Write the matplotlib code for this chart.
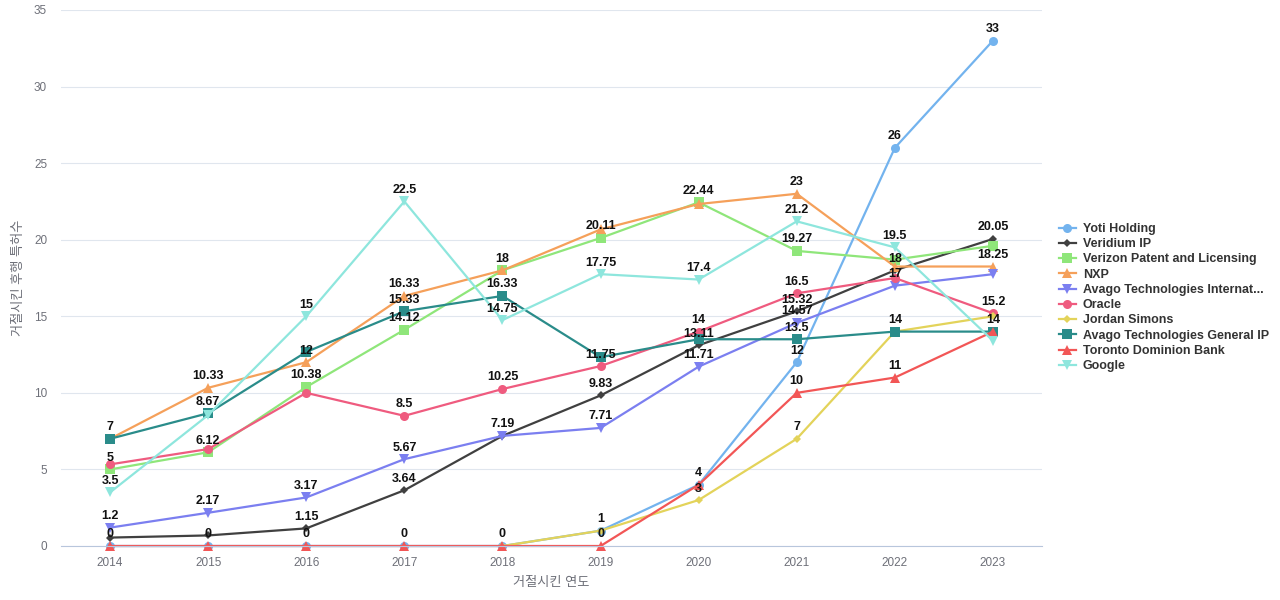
#######################################################
# imports

import numpy as np
import matplotlib.pyplot as plt

plt.rcParams['font.family'] = ['Liberation Sans', 'Noto Sans CJK KR']

#######################################################
# data

years = [2014, 2015, 2016, 2017, 2018, 2019, 2020, 2021, 2022, 2023]

names = ['Yoti Holding', 'Veridium IP', 'Verizon Patent and Licensing', 'NXP',
         'Avago Technologies Internat...', 'Oracle', 'Jordan Simons',
         'Avago Technologies General IP', 'Toronto Dominion Bank', 'Google']

nan = np.nan
yoti     = [0, 0, 0, 0, 0, 1, 4, 12, 26, 33]
veridium = [0.55, 0.69, 1.15, 3.64, 7.19, 9.83, 13.11, 15.32, 18, 20.05]
verizon  = [5, 6.12, 10.38, 14.12, 18, 20.11, 22.44, 19.27, 18.7, 19.6]
nxp      = [7, 10.33, 12, 16.33, 18, 20.67, 22.33, 23, 18.25, 18.25]
avago_i  = [1.2, 2.17, 3.17, 5.67, 7.19, 7.71, 11.71, 14.57, 17, 17.75]
oracle   = [5.33, 6.33, 10, 8.5, 10.25, 11.75, 14, 16.5, 17.5, 15.2]
jordan   = [nan, nan, nan, nan, 0, 1, 3, 7, 14, 15]
avago_g  = [7, 8.67, 12.67, 15.33, 16.33, 12.33, 13.5, 13.5, 14, 14]
toronto  = [0, 0, 0, 0, 0, 0, 4, 10, 11, 14]
google   = [3.5, 8.55, 15, 22.5, 14.75, 17.75, 17.4, 21.2, 19.5, 13.4]

series = [yoti, veridium, verizon, nxp, avago_i, oracle, jordan, avago_g, toronto, google]

colors = ['#73b3ee', '#404040', '#8fe67a', '#f5a05a', '#7b7ff0',
          '#ef5b7f', '#e3d35a', '#2a8c8a', '#f25656', '#8ee6dd']
markers = ['o', 'D', 's', '^', 'v', 'o', 'D', 's', '^', 'v']
msizes = [6.5, 4.5, 6.5, 6.5, 6.5, 6.5, 4.5, 6.5, 6.5, 6.5]

#######################################################
# plot

fig = plt.figure(figsize=(12.8, 6), dpi=100)
ax = fig.add_axes([61/1280, 1-546/600, (1042-61)/1280, (546-10)/600])

x = np.arange(len(years))
for vals, name, c, m, ms in zip(series, names, colors, markers, msizes):
    ax.plot(x, vals, color=c, linewidth=1.6, marker=m, markersize=ms,
            markeredgewidth=0, label=name, clip_on=False)

ax.set_xlim(-0.5, len(years) - 0.5)
ax.set_ylim(0, 35)
ax.set_xticks(x)
ax.set_xticklabels([str(y) for y in years])
ax.set_yticks(np.arange(0, 36, 5))
ax.tick_params(length=0, labelsize=8.5, colors='#6e7079', pad=8)
ax.tick_params(axis='y', pad=10)
ax.grid(axis='y', color='#e0e6ee', linewidth=0.8)
ax.set_axisbelow(True)
for s in ['top', 'right', 'left']:
    ax.spines[s].set_visible(False)
ax.spines['bottom'].set_color('#b8c6dc')

ax.set_xlabel('거절시킨 연도', color='#6e7079', fontsize=9.5, labelpad=6)
ax.set_ylabel('거절시킨 후행 특허수', color='#6e7079', fontsize=9.5)
ax.yaxis.set_label_coords(-36/981, 0.5)

# value labels, hiding ones that would overlap an earlier label
fig.canvas.draw()
placed = {i: [] for i in range(len(years))}
for vals in series:
    for i, v in enumerate(vals):
        if np.isnan(v):
            continue
        py = ax.transData.transform((i, v))[1]
        if any(abs(py - q) < 11 for q in placed[i]):
            continue
        placed[i].append(py)
        ax.annotate('%g' % v, (i, v), xytext=(0, 4), textcoords='offset points',
                    ha='center', va='bottom', fontsize=9, fontweight='bold',
                    color='#111111', zorder=10)

ax.legend(loc='upper left', bbox_to_anchor=(1059/1280, 1-223/600),
          bbox_transform=fig.transFigure, frameon=False,
          labelspacing=0.26, handlelength=1.35, handletextpad=0.55,
          borderpad=0, borderaxespad=0, labelcolor='#333333',
          prop={'weight': 'bold', 'size': 9})

plt.savefig('out.png', dpi=100)
plt.close()
